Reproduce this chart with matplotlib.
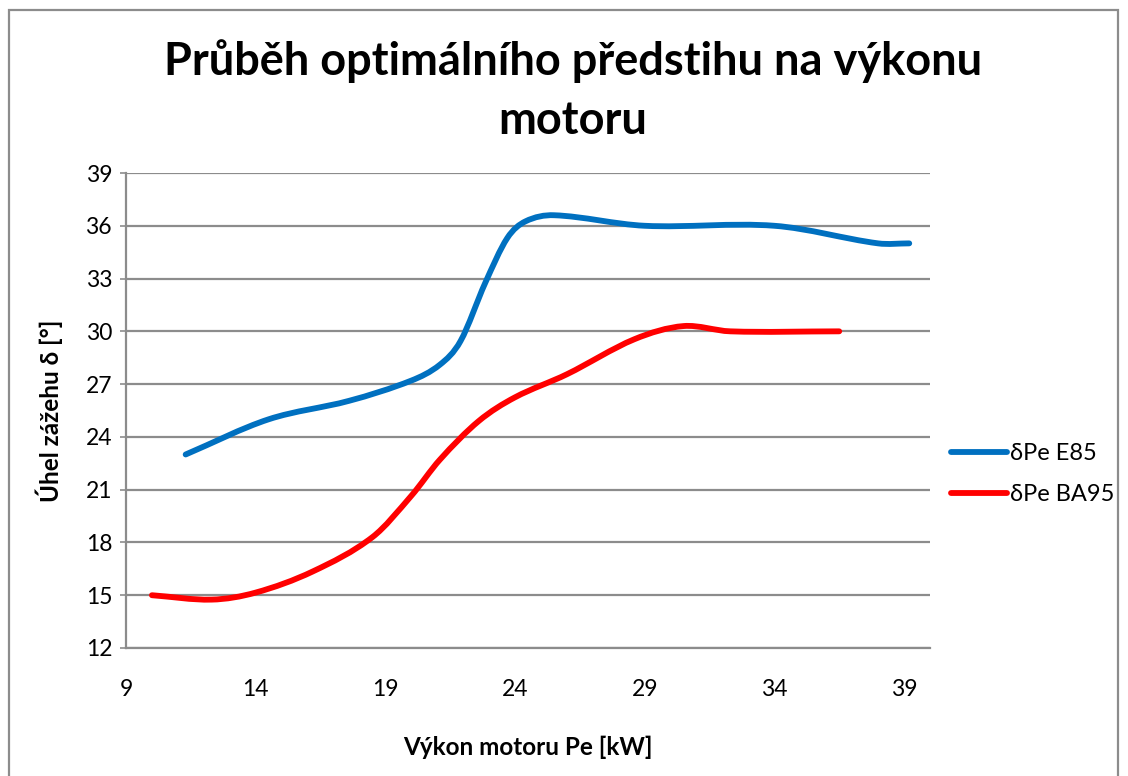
import numpy as np
import matplotlib
matplotlib.use("Agg")
import matplotlib.pyplot as plt
from matplotlib.path import Path
from matplotlib.patches import PathPatch, Rectangle
from matplotlib.lines import Line2D

plt.rcParams['font.family'] = ['Lato', 'DejaVu Sans']

# ---- data ----
title = "Průběh optimálního předstihu na výkonu\nmotoru"
x_label = "Výkon motoru Pe [kW]"
y_label = "Úhel zážehu δ [°]"

e85_name = "δPe E85"
e85_x = [11.3, 14.5, 17.6, 20.0, 21.1, 21.9, 22.85, 23.7, 24.4, 25.5, 29.0, 34.0, 38.0, 39.2]
e85_y = [23.0, 25.0, 26.05, 27.2, 28.1, 29.45, 32.75, 35.3, 36.25, 36.6, 36.0, 36.0, 35.0, 35.0]

ba95_name = "δPe BA95"
ba95_x = [10.0, 12.3, 14.0, 16.2, 18.5, 20.0, 21.1, 22.6, 24.0, 26.0, 28.6, 30.5, 32.3, 36.5]
ba95_y = [15.0, 14.75, 15.15, 16.35, 18.3, 20.65, 22.7, 24.9, 26.25, 27.56, 29.55, 30.3, 30.0, 30.0]

x_ticks = [9, 14, 19, 24, 29, 34, 39]
y_ticks = [12, 15, 18, 21, 24, 27, 30, 33, 36, 39]

BLUE = "#0070C0"
RED = "#FF0000"
GRID = "#8C8C8C"


def smooth_path(xs, ys):
    """Smoothed line through the points: cubic Hermite in x with
    Catmull-Rom slopes, expressed as cubic Bezier segments."""
    x = np.asarray(xs, float)
    y = np.asarray(ys, float)
    n = len(x)
    m = np.empty(n)
    m[0] = (y[1] - y[0]) / (x[1] - x[0])
    m[-1] = (y[-1] - y[-2]) / (x[-1] - x[-2])
    for i in range(1, n - 1):
        m[i] = (y[i + 1] - y[i - 1]) / (x[i + 1] - x[i - 1])
    verts = [(x[0], y[0])]
    codes = [Path.MOVETO]
    for i in range(n - 1):
        h = x[i + 1] - x[i]
        c1 = (x[i] + h / 3, y[i] + m[i] * h / 3)
        c2 = (x[i + 1] - h / 3, y[i + 1] - m[i + 1] * h / 3)
        verts += [c1, c2, (x[i + 1], y[i + 1])]
        codes += [Path.CURVE4] * 3
    return Path(verts, codes)


fig = plt.figure(figsize=(11.28, 7.76), dpi=100)
ax = fig.add_axes([126 / 1128, 1 - 648 / 776, (930 - 126) / 1128, (648 - 173) / 776])

ax.set_xlim(9, 40)
ax.set_ylim(12, 39)
ax.set_xticks(x_ticks)
ax.set_yticks(y_ticks)
ax.tick_params(axis='x', length=0, pad=22, labelsize=16.5, labelcolor='black')
ax.tick_params(axis='y', length=4, width=1.2, color=GRID, pad=6, labelsize=16.5, labelcolor='black')

ax.yaxis.grid(True, color=GRID, linewidth=1.6)
ax.set_axisbelow(True)
for s in ['top', 'right']:
    ax.spines[s].set_visible(False)
for s in ['left', 'bottom']:
    ax.spines[s].set_color(GRID)
    ax.spines[s].set_linewidth(1.6)

for xs, ys, col in [(e85_x, e85_y, BLUE), (ba95_x, ba95_y, RED)]:
    patch = PathPatch(smooth_path(xs, ys), fill=False, edgecolor=col,
                      linewidth=4.2, capstyle='round', joinstyle='round', zorder=3)
    ax.add_patch(patch)

ax.set_xlabel(x_label, fontsize=17.5, fontweight='bold', labelpad=26)
ax.set_ylabel(y_label, fontsize=17.5, fontweight='bold', labelpad=16)

fig.text(573 / 1128, 1 - 91 / 776, title, ha='center', va='center',
         fontsize=32.5, fontweight='bold', linespacing=1.5)

handles = [Line2D([], [], color=BLUE, lw=4.2, solid_capstyle='round'),
           Line2D([], [], color=RED, lw=4.2, solid_capstyle='round')]
fig.legend(handles, [e85_name, ba95_name], loc='center left',
           bbox_to_anchor=(930 / 1128, 1 - 474 / 776), frameon=False,
           fontsize=17, handlelength=2.35, handletextpad=0.15, labelspacing=0.85)

fig.patches.append(Rectangle((9 / 1128, -0.05), (1118 - 9) / 1128, 1.05 - 10 / 776,
                             transform=fig.transFigure, fill=False,
                             edgecolor=GRID, linewidth=1.6))

fig.savefig("out.png", dpi=100)
